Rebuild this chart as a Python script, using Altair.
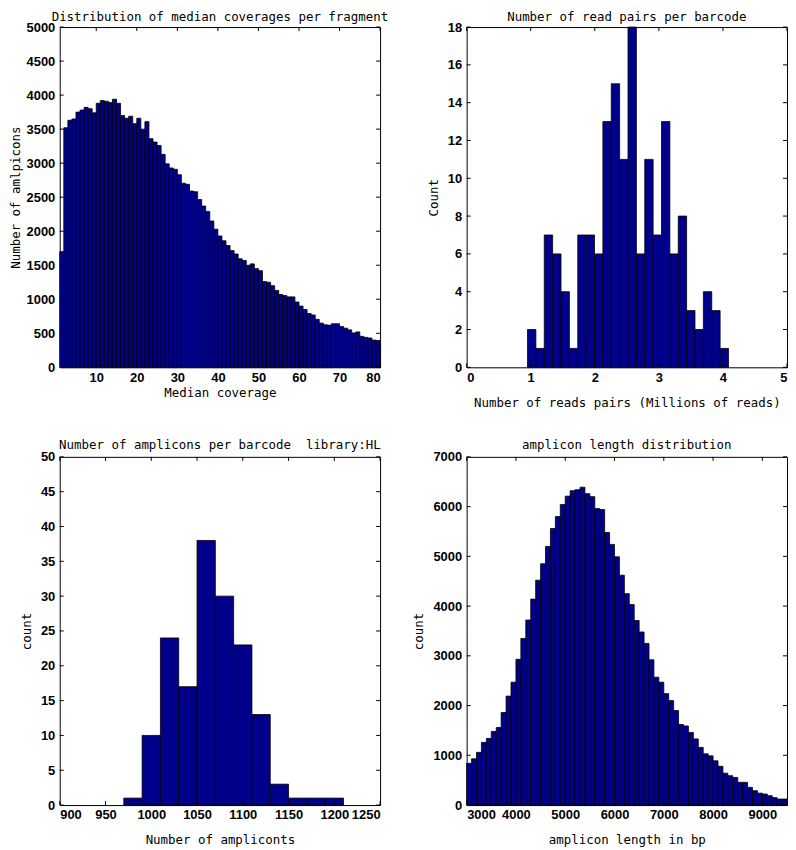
import altair as alt
import pandas as pd

# ---- Panel 1: median coverage per fragment (bins of width 1 starting at 1)
cov_start = 1
cov_width = 1
cov_counts = [1700, 3520, 3630, 3650, 3750, 3780, 3820, 3800, 3740, 3880,
              3920, 3910, 3890, 3940, 3880, 3700, 3660, 3690, 3580, 3660,
              3500, 3610, 3360, 3310, 3260, 3130, 2990, 2930, 2910, 2830,
              2705, 2690, 2590, 2580, 2465, 2370, 2290, 2150, 2030, 1930,
              1860, 1790, 1715, 1665, 1595, 1570, 1500, 1520, 1450, 1420,
              1260, 1250, 1200, 1130, 1070, 1055, 1035, 1035, 960, 900,
              850, 790, 770, 705, 650, 625, 620, 640, 640, 600,
              575, 550, 505, 520, 455, 440, 430, 400, 395]
cov_xticks = [10, 20, 30, 40, 50, 60, 70, 80]
cov_yticks = [0, 500, 1000, 1500, 2000, 2500, 3000, 3500, 4000, 4500, 5000]

# ---- Panel 2: read pairs per barcode (millions)
reads_start = 0.95
reads_width = 0.1307
reads_counts = [2, 1, 7, 6, 4, 1, 7, 7, 6, 13, 15, 11, 18, 6, 11, 7, 13, 6, 8, 3, 2, 4, 3, 1]
reads_xticks = [0, 1, 2, 3, 4, 5]
reads_yticks = [0, 2, 4, 6, 8, 10, 12, 14, 16, 18]

# ---- Panel 3: amplicons per barcode
amp_start = 970
amp_width = 20
amp_counts = [1, 10, 24, 17, 38, 30, 23, 13, 3, 1, 1, 1]
amp_xticks = [900, 950, 1000, 1050, 1100, 1150, 1200, 1250]
amp_yticks = [0, 5, 10, 15, 20, 25, 30, 35, 40, 45, 50]

# ---- Panel 4: amplicon length distribution
len_start = 3000
len_width = 100
len_counts = [840, 930, 1060, 1260, 1340, 1480, 1560, 1860, 2190, 2470,
              2930, 3350, 3720, 4140, 4520, 4850, 5200, 5560, 5800, 6040,
              6210, 6320, 6340, 6390, 6260, 6200, 5960, 5940, 5480, 5240,
              4990, 4620, 4250, 4030, 3710, 3480, 3250, 2920, 2570, 2470,
              2240, 2100, 1900, 1620, 1590, 1460, 1330, 1160, 1030, 990,
              890, 780, 640, 590, 555, 457, 457, 356, 289, 240,
              222, 188, 150, 121, 121]
len_xticks = [3000, 4000, 5000, 6000, 7000, 8000, 9000]
len_yticks = [0, 1000, 2000, 3000, 4000, 5000, 6000, 7000]

W = 322
H_TOP = 342
H_BOT = 350
TICK = 4
FILL = "#00008a"


def panel(counts, start, width, xdom, ydom, xticks, yticks, title, xtitle, ytitle,
          title_offset, xtitle_pad, ytitle_pad, H):
    df = pd.DataFrame({
        "lo": [start + i * width for i in range(len(counts))],
        "hi": [start + (i + 1) * width for i in range(len(counts))],
        "n": counts,
        "z": [0] * len(counts),
    })
    xs = alt.Scale(domain=xdom, nice=False, zero=False)
    ys = alt.Scale(domain=ydom, nice=False, zero=False)
    xaxis = alt.Axis(values=xticks, title=xtitle, titlePadding=xtitle_pad, format="d")
    yaxis = alt.Axis(values=yticks, title=ytitle, titlePadding=ytitle_pad, format="d")

    bars = alt.Chart(df).mark_rect(fill=FILL, stroke="black", strokeWidth=0.8).encode(
        x=alt.X("lo:Q", scale=xs, axis=xaxis),
        x2="hi:Q",
        y=alt.Y("n:Q", scale=ys, axis=yaxis),
        y2="z:Q",
    )
    xt = pd.DataFrame({"v": xticks})
    yt = pd.DataFrame({"v": yticks})
    tb = alt.Chart(xt).mark_rule(color="black", strokeWidth=1).encode(
        x=alt.X("v:Q", scale=xs, axis=xaxis), y=alt.value(H), y2=alt.value(H - TICK))
    tt = alt.Chart(xt).mark_rule(color="black", strokeWidth=1).encode(
        x=alt.X("v:Q", scale=xs, axis=xaxis), y=alt.value(0), y2=alt.value(TICK))
    tl = alt.Chart(yt).mark_rule(color="black", strokeWidth=1).encode(
        y=alt.Y("v:Q", scale=ys, axis=yaxis), x=alt.value(0), x2=alt.value(TICK))
    tr = alt.Chart(yt).mark_rule(color="black", strokeWidth=1).encode(
        y=alt.Y("v:Q", scale=ys, axis=yaxis), x=alt.value(W - TICK), x2=alt.value(W))
    return alt.layer(bars, tb, tt, tl, tr).properties(
        width=W, height=H,
        title=alt.TitleParams(title, offset=title_offset, frame="group"),
    )


p1 = panel(cov_counts, cov_start, cov_width, [1, 80], [0, 5000], cov_xticks, cov_yticks,
           "Distribution of median coverages per fragment", "Median coverage",
           "Number of amlpicons", -2, 2, 4, H_TOP)
p2 = panel(reads_counts, reads_start, reads_width, [0, 5], [0, 18], reads_xticks, reads_yticks,
           "Number of read pairs per barcode", "Number of reads pairs (Millions of reads)",
           "Count", -2, 12, 7, H_TOP)
p3 = panel(amp_counts, amp_start, amp_width, [900, 1250], [0, 50], amp_xticks, amp_yticks,
           "Number of amplicons per barcode \u00a0library:HL", "Number of ampliconts",
           "count", -1, 12, 7, H_BOT)
p4 = panel(len_counts, len_start, len_width, [3000, 9500], [0, 7000], len_xticks, len_yticks,
           "amplicon length distribution", "amplicon length in bp",
           "count", -1, 12, 7, H_BOT)

chart = alt.concat(p1, p2, p3, p4, columns=2, spacing={"row": 30, "column": 23}).properties(
    padding=0, background="white"
).configure_view(
    stroke="black", strokeWidth=1
).configure_axis(
    labelFont="Liberation Sans", labelFontSize=13, labelFontWeight="bold", labelColor="black",
    titleFont="DejaVu Sans Mono", titleFontSize=12.5, titleFontWeight="normal",
    titleColor="black", domain=False, ticks=False, tickSize=0, grid=False,
    labelPadding=5,
).configure_axisX(
    labelPadding=4,
).configure_title(
    font="DejaVu Sans Mono", fontSize=12.5, fontWeight="normal", color="black",
    anchor="middle",
)

chart.save("out.html", embed_options={"renderer": "svg", "actions": False})
